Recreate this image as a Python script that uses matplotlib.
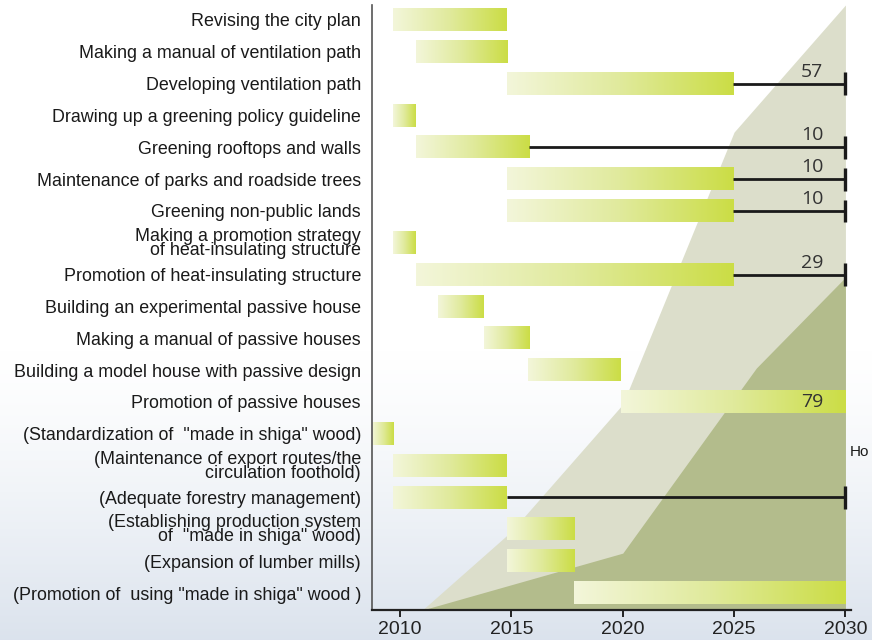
import numpy as np
import matplotlib
matplotlib.use("Agg")
import matplotlib.pyplot as plt
from matplotlib.colors import LinearSegmentedColormap

plt.rcParams['font.family'] = ['Liberation Sans', 'DejaVu Sans']

# ---- schedule data ----
tasks = [
    "Revising the city plan",
    "Making a manual of ventilation path",
    "Developing ventilation path",
    "Drawing up a greening policy guideline",
    "Greening rooftops and walls",
    "Maintenance of parks and roadside trees",
    "Greening non-public lands",
    "Making a promotion strategy\n of heat-insulating structure",
    "Promotion of heat-insulating structure",
    "Building an experimental passive house",
    "Making a manual of passive houses",
    "Building a model house with passive design",
    "Promotion of passive houses",
    '(Standardization of  "made in shiga" wood)',
    "(Maintenance of export routes/the\ncirculation foothold)",
    "(Adequate forestry management)",
    "(Establishing production system\nof  \"made in shiga\" wood)",
    "(Expansion of lumber mills)",
    '(Promotion of  using "made in shiga" wood )',
]
start_year = [2009.7, 2010.7, 2014.8, 2009.7, 2010.7, 2014.8, 2014.8, 2009.7,
              2010.7, 2011.7, 2013.75, 2015.75, 2019.9, 2008.75, 2009.7,
              2009.7, 2014.8, 2014.8, 2017.8]
end_year = [2014.8, 2014.8, 2024.95, 2010.7, 2015.8, 2024.95, 2024.95, 2010.7,
            2024.95, 2013.75, 2015.8, 2019.9, 2030.0, 2009.7, 2014.8,
            2014.8, 2017.85, 2017.85, 2030.0]
# continuation line to the target year, with target figure
extend_to = [None, None, 2030, None, 2030, 2030, 2030, None, 2030, None,
             None, None, None, None, None, 2030, None, None, None]
target_label = [None, None, "57", None, "10", "10", "10", None, "29", None,
                None, None, "79", None, None, None, None, None, None]

# ---- cumulative area data (share of full scale, %) ----
area_years_light = [2011, 2015, 2020, 2025, 2030]
area_light = [0, 13, 34, 79, 100]
area_years_dark = [2011, 2020, 2026, 2030]
area_dark = [0, 9.4, 40, 55]

year_ticks = [2010, 2015, 2020, 2025, 2030]

W, H = 872, 640
fig = plt.figure(figsize=(W / 100, H / 100), dpi=100)

# soft sky-toned background
bg = fig.add_axes([0, 0, 1, 1], zorder=-10)
yy = np.linspace(0, 1, 400)
t = np.clip((yy - 0.55) / 0.45, 0, 1) ** 1.3
top = np.array([1.0, 1.0, 1.0])
bot = np.array([0.86, 0.89, 0.93])
grad = top[None, :] * (1 - t[:, None]) + bot[None, :] * t[:, None]
bg.imshow(grad[:, None, :], extent=[0, 1, 1, 0], aspect='auto',
          interpolation='bilinear')
bg.set_xlim(0, 1)
bg.set_ylim(1, 0)
bg.axis('off')

x0, x1 = 2008.74, 2030.25
rect = [372 / W, 30 / H, (851 - 372) / W, (635 - 30) / H]

# area layer behind the bars
ax_area = fig.add_axes(rect, zorder=0)
ax_area.patch.set_visible(False)
ax_area.fill_between(area_years_light, area_light, color="#dcdecb", lw=0)
ax_area.fill_between(area_years_dark, area_dark, color="#b3bc8c", lw=0)
ax_area.set_xlim(x0, x1)
ax_area.set_ylim(0, 100)
ax_area.axis('off')

# bar layer
ax = fig.add_axes(rect, zorder=1)
ax.patch.set_visible(False)
cmap = LinearSegmentedColormap.from_list("bar", ["#f3f6da", "#e0ea9c", "#cbdd45"])
grad_row = np.linspace(0, 1, 256).reshape(1, -1)
bar_h = 0.70
n = len(tasks)
num_font = dict(fontsize=14, color="#333333", family=['Open Sans', 'DejaVu Sans'],
                ha='center', va='center', zorder=4)
for i in range(n):
    s, e = start_year[i], end_year[i]
    ax.imshow(grad_row, cmap=cmap, extent=[s, e, i + bar_h / 2, i - bar_h / 2],
              aspect='auto', interpolation='bilinear', zorder=2)
    if extend_to[i] is not None:
        ax.plot([e, extend_to[i]], [i, i], color="#1a1a1a", lw=2.0,
                solid_capstyle='butt', zorder=3)
        ax.plot([extend_to[i], extend_to[i]], [i - 0.36, i + 0.36],
                color="#1a1a1a", lw=2.4, solid_capstyle='butt', zorder=3)
        if target_label[i]:
            ax.text(2028.5, i - 0.38, target_label[i], **num_font)
    elif target_label[i]:
        ax.text(2028.5, i, target_label[i], **num_font)

ax.set_xlim(x0, x1)
ax.set_ylim(n - 1 + 0.534, -0.471)
ax.set_yticks(range(n))
ax.set_yticklabels(tasks, fontsize=12.9, linespacing=0.76, color="#1a1a1a")
ax.tick_params(axis='y', length=0, pad=8)
ax.set_xticks(year_ticks)
ax.set_xticklabels([str(y) for y in year_ticks], fontsize=14, color="#222222")
ax.tick_params(axis='x', length=5, width=1.4, color="#222222", pad=3)
for side in ['top', 'right']:
    ax.spines[side].set_visible(False)
ax.spines['left'].set_color("#555555")
ax.spines['left'].set_linewidth(1.2)
ax.spines['bottom'].set_color("#222222")
ax.spines['bottom'].set_linewidth(1.6)

fig.text(869 / W, 1 - 452 / H, "Ho", fontsize=11, va='center', ha='right',
         color="#1a1a1a")

fig.savefig("out.png", dpi=100)
